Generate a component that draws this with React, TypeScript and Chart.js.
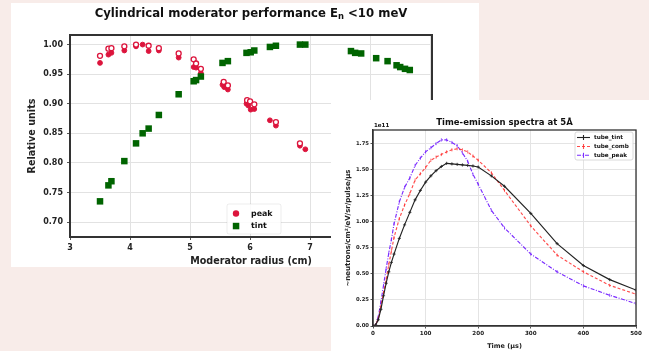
import React, { useEffect, useRef } from 'react';
import { Chart, registerables } from 'chart.js';

Chart.register(...registerables);

const FONT = '"DejaVu Sans", "Liberation Sans", sans-serif';
const PINK = '#f8ece9';
const CRIMSON = '#dc143c';
const GREEN = '#006400';

// ---------- Left chart: Cylindrical moderator performance ----------
const leftTitleParts = ['Cylindrical moderator performance E', 'n', ' <10 meV'];
const leftXLabel = 'Moderator radius (cm)';
const leftYLabel = 'Relative units';
const leftXTicks = [3, 4, 5, 6, 7, 8, 9];
const leftYTicks = [0.7, 0.75, 0.8, 0.85, 0.9, 0.95, 1.0];

const radiusPeak = [3.5, 3.64, 3.69, 3.905, 4.1, 4.21, 4.31, 4.48, 4.81, 5.06, 5.1, 5.18, 5.54, 5.57, 5.63, 5.94, 5.97, 6.01, 6.07, 6.33, 6.43, 6.83, 6.92];
const peakValues = [0.969, 0.983, 0.986, 0.99, 0.997, 1.0, 0.989, 0.99, 0.978, 0.962, 0.961, 0.952, 0.932, 0.928, 0.924, 0.9, 0.897, 0.89, 0.891, 0.872, 0.863, 0.829, 0.823];

const radiusPeakOpen = [3.5, 3.64, 3.69, 3.905, 4.1, 4.31, 4.48, 4.81, 5.06, 5.1, 5.18, 5.56, 5.63, 5.95, 6.0, 6.07, 6.43, 6.83];
const peakOpenValues = [0.981, 0.993, 0.994, 0.997, 1.0, 0.998, 0.994, 0.985, 0.975, 0.968, 0.959, 0.937, 0.931, 0.906, 0.904, 0.899, 0.869, 0.833];

const radiusTint = [3.5, 3.64, 3.69, 3.905, 4.1, 4.21, 4.31, 4.48, 4.81, 5.06, 5.1, 5.18, 5.54, 5.63, 5.94, 6.01, 6.07, 6.33, 6.43, 6.83, 6.92, 7.68, 7.75, 7.85, 8.1, 8.29, 8.44, 8.5, 8.58, 8.66];
const tintValues = [0.735, 0.762, 0.769, 0.803, 0.833, 0.85, 0.858, 0.881, 0.916, 0.938, 0.94, 0.946, 0.969, 0.972, 0.986, 0.987, 0.99, 0.996, 0.998, 1.0, 1.0, 0.989, 0.986, 0.985, 0.977, 0.972, 0.965, 0.962, 0.959, 0.957];

// ---------- Right chart: Time-emission spectra ----------
const rightTitle = 'Time-emission spectra at 5Å';
const rightXLabel = 'Time (μs)';
const rightYLabel = '~neutrons/cm²/eV/sr/pulse/μs';
const rightExponent = '1e11';
const rightXTicks = [0, 100, 200, 300, 400, 500];
const rightYTicks = [0, 0.25, 0.5, 0.75, 1.0, 1.25, 1.5, 1.75];

const timeUs = [0, 5, 10, 15, 20, 25, 30, 35, 40, 50, 60, 70, 80, 90, 100, 110, 120, 130, 140, 150, 160, 170, 180, 190, 200, 225, 250, 300, 350, 400, 450, 500];
const tubeTint = [0, 0.01, 0.06, 0.16, 0.29, 0.41, 0.52, 0.61, 0.69, 0.84, 0.97, 1.09, 1.21, 1.3, 1.38, 1.44, 1.49, 1.53, 1.56, 1.555, 1.55, 1.545, 1.54, 1.535, 1.525, 1.44, 1.34, 1.08, 0.79, 0.58, 0.445, 0.345];
const tubeComb = [0, 0.01, 0.07, 0.19, 0.32, 0.44, 0.59, 0.72, 0.85, 1.03, 1.16, 1.27, 1.4, 1.46, 1.52, 1.59, 1.62, 1.645, 1.67, 1.69, 1.7, 1.69, 1.67, 1.63, 1.59, 1.47, 1.3, 0.96, 0.68, 0.52, 0.39, 0.305];
const tubePeak = [0, 0.01, 0.09, 0.23, 0.39, 0.55, 0.7, 0.83, 0.98, 1.19, 1.33, 1.42, 1.54, 1.61, 1.67, 1.71, 1.75, 1.785, 1.785, 1.76, 1.73, 1.66, 1.58, 1.455, 1.36, 1.11, 0.94, 0.69, 0.52, 0.385, 0.295, 0.215];

const zip = (xs: number[], ys: number[]) => xs.map((x, i) => ({ x, y: ys[i] }));
const font = (size: number) => ({ family: FONT, size, weight: 'bold' as const });

const leftDecor = {
  id: 'leftDecor',
  afterDraw(chart: any) {
    const { ctx, chartArea: a } = chart;
    ctx.save();
    ctx.strokeStyle = '#333';
    ctx.lineWidth = 2;
    ctx.strokeRect(a.left, a.top, a.right - a.left, a.bottom - a.top);

    // title with subscript
    const size = 11.7;
    const mainF = `bold ${size}px ${FONT}`;
    const subF = `bold ${size * 0.72}px ${FONT}`;
    const fonts = [mainF, subF, mainF];
    const dys = [0, size * 0.28, 0];
    ctx.fillStyle = '#111';
    ctx.textBaseline = 'middle';
    ctx.textAlign = 'left';
    const widths = leftTitleParts.map((t, i) => { ctx.font = fonts[i]; return ctx.measureText(t).width; });
    const total = widths.reduce((s, w) => s + w, 0);
    let x = (a.left + a.right) / 2 - total / 2;
    leftTitleParts.forEach((t, i) => {
      ctx.font = fonts[i];
      ctx.fillText(t, x, 10.5 + dys[i]);
      x += widths[i];
    });

    // legend
    const bx = 216, by = 201, bw = 54, bh = 30;
    ctx.fillStyle = 'rgba(255,255,255,0.85)';
    ctx.strokeStyle = 'rgba(0,0,0,0.07)';
    ctx.lineWidth = 1;
    ctx.beginPath();
    ctx.roundRect(bx, by, bw, bh, 2);
    ctx.fill();
    ctx.stroke();
    ctx.fillStyle = CRIMSON;
    ctx.beginPath();
    ctx.arc(225, 210.5, 3.2, 0, Math.PI * 2);
    ctx.fill();
    ctx.fillStyle = GREEN;
    ctx.fillRect(221.8, 219.8, 6.5, 6.5);
    ctx.fillStyle = '#111';
    ctx.font = `bold 7.9px ${FONT}`;
    ctx.fillText('peak', 240, 210.5);
    ctx.fillText('tint', 240, 223);
    ctx.restore();
  },
};

const rightDecor = {
  id: 'rightDecor',
  afterDraw(chart: any) {
    const { ctx, chartArea: a } = chart;
    ctx.save();
    ctx.strokeStyle = '#333';
    ctx.lineWidth = 1.3;
    ctx.strokeRect(a.left, a.top, a.right - a.left, a.bottom - a.top);

    ctx.fillStyle = '#111';
    ctx.textBaseline = 'middle';
    ctx.textAlign = 'center';
    ctx.font = `bold 8.5px ${FONT}`;
    ctx.fillText(rightTitle, (a.left + a.right) / 2, 23);
    ctx.textAlign = 'left';
    ctx.font = `bold 5.5px ${FONT}`;
    ctx.fillText(rightExponent, a.left + 1, 25.5);

    // legend
    const bx = 244, by = 32, bw = 58, bh = 28;
    ctx.fillStyle = 'rgba(255,255,255,0.85)';
    ctx.strokeStyle = '#d0d0d0';
    ctx.lineWidth = 0.8;
    ctx.beginPath();
    ctx.roundRect(bx, by, bw, bh, 2);
    ctx.fill();
    ctx.stroke();
    const ds = chart.data.datasets;
    const rows = [37.5, 46.5, 55.3];
    ds.forEach((d: any, i: number) => {
      const y = rows[i];
      ctx.strokeStyle = d.borderColor;
      ctx.lineWidth = 1.1;
      ctx.setLineDash(d.borderDash || []);
      ctx.beginPath();
      ctx.moveTo(246, y);
      ctx.lineTo(259, y);
      ctx.stroke();
      ctx.setLineDash([]);
      ctx.beginPath();
      ctx.moveTo(252.5, y - 2.5);
      ctx.lineTo(252.5, y + 2.5);
      ctx.stroke();
      ctx.fillStyle = '#111';
      ctx.font = `bold 5.7px ${FONT}`;
      ctx.fillText(d.label, 263, y);
    });
    ctx.restore();
  },
};

function LeftChart() {
  const ref = useRef<HTMLCanvasElement>(null);
  useEffect(() => {
    const chart = new Chart(ref.current as HTMLCanvasElement, {
      type: 'scatter',
      data: {
        datasets: [
          { label: 'peak', data: zip(radiusPeak, peakValues), pointStyle: 'circle', pointRadius: 2.4, pointBorderWidth: 1, backgroundColor: CRIMSON, borderColor: CRIMSON, order: 2 },
          { label: 'peak (open)', data: zip(radiusPeakOpen, peakOpenValues), pointStyle: 'circle', pointRadius: 2.5, pointBorderWidth: 1.3, backgroundColor: '#ffffff', borderColor: CRIMSON, order: 1 },
          { label: 'tint', data: zip(radiusTint, tintValues), pointStyle: 'rect', pointRadius: 4.6, pointBorderWidth: 0, backgroundColor: GREEN, borderColor: GREEN, order: 0 },
        ],
      },
      options: {
        responsive: false,
        animation: false,
        events: [],
        layout: { padding: { left: 0, top: 32, right: 47, bottom: 0 } },
        plugins: { legend: { display: false }, tooltip: { enabled: false }, title: { display: false } },
        scales: {
          x: {
            type: 'linear', min: 3, max: 9.03,
            afterBuildTicks: (s: any) => { s.ticks = leftXTicks.map((v) => ({ value: v })); },
            afterFit: (s: any) => { s.height = 30; },
            ticks: { font: font(8), color: '#222', padding: 3.5, maxRotation: 0, callback: (v: any) => String(v) },
            grid: { color: '#e2e2e2', lineWidth: 1, tickLength: 3, tickColor: '#555' },
            border: { display: true, color: '#333', width: 2 },
            title: { display: true, text: leftXLabel, font: font(9.6), color: '#222', padding: { top: 0, bottom: 0 } },
          },
          y: {
            type: 'linear', min: 0.6747, max: 1.0162,
            afterBuildTicks: (s: any) => { s.ticks = leftYTicks.map((v) => ({ value: v })); },
            afterFit: (s: any) => { s.width = 59; },
            ticks: { font: font(8), color: '#222', padding: 4, callback: (v: any) => Number(v).toFixed(2) },
            grid: { color: '#e2e2e2', lineWidth: 1, tickLength: 3, tickColor: '#555' },
            border: { display: true, color: '#333', width: 2 },
            title: { display: true, text: leftYLabel, font: font(9.6), color: '#222', padding: { top: 16, bottom: 0 } },
          },
        },
      },
      plugins: [leftDecor],
    } as any);
    return () => chart.destroy();
  }, []);
  return <canvas ref={ref} width={468} height={264} style={{ display: 'block', width: 468, height: 264 }} />;
}

function RightChart() {
  const ref = useRef<HTMLCanvasElement>(null);
  useEffect(() => {
    const common = { fill: false, tension: 0, borderWidth: 1.15, pointRadius: 1.6, pointBorderWidth: 0.8 };
    const chart = new Chart(ref.current as HTMLCanvasElement, {
      type: 'line',
      data: {
        datasets: [
          { ...common, label: 'tube_tint', data: zip(timeUs, tubeTint), borderColor: '#222222', pointBorderColor: '#222222', pointBackgroundColor: '#222222', pointStyle: 'cross' },
          { ...common, label: 'tube_comb', data: zip(timeUs, tubeComb), borderColor: 'rgba(255,45,45,0.85)', pointBorderColor: 'rgba(255,45,45,0.85)', borderDash: [3, 2], pointStyle: 'line', pointRotation: 90 },
          { ...common, label: 'tube_peak', data: zip(timeUs, tubePeak), borderColor: '#7a2bff', pointBorderColor: '#7a2bff', borderDash: [4, 1.5, 1, 1.5], pointStyle: 'line', pointRotation: 90 },
        ],
      },
      options: {
        responsive: false,
        animation: false,
        events: [],
        layout: { padding: { left: 0, top: 30, right: 13, bottom: 0 } },
        plugins: { legend: { display: false }, tooltip: { enabled: false }, title: { display: false } },
        scales: {
          x: {
            type: 'linear', min: 0, max: 500,
            afterBuildTicks: (s: any) => { s.ticks = rightXTicks.map((v) => ({ value: v })); },
            afterFit: (s: any) => { s.height = 25; },
            ticks: { font: font(5.6), color: '#222', padding: 2, maxRotation: 0, callback: (v: any) => String(v) },
            grid: { color: '#e4e4e4', lineWidth: 1, tickLength: 2.5, tickColor: '#555' },
            border: { display: true, color: '#333', width: 1.3 },
            title: { display: true, text: rightXLabel, font: font(6.5), color: '#222', padding: { top: 0, bottom: 1 } },
          },
          y: {
            type: 'linear', min: 0, max: 1.88,
            afterBuildTicks: (s: any) => { s.ticks = rightYTicks.map((v) => ({ value: v })); },
            afterFit: (s: any) => { s.width = 42; },
            ticks: { font: font(5.3), color: '#222', padding: 1.5, callback: (v: any) => Number(v).toFixed(2) },
            grid: { color: '#e4e4e4', lineWidth: 1, tickLength: 2.5, tickColor: '#555' },
            border: { display: true, color: '#333', width: 1.3 },
            title: { display: true, text: rightYLabel, font: font(7), color: '#222', padding: { top: 12.5, bottom: 0 } },
          },
        },
      },
      plugins: [rightDecor],
    } as any);
    return () => chart.destroy();
  }, []);
  return <canvas ref={ref} width={318} height={251} style={{ display: 'block', width: 318, height: 251 }} />;
}

export default function App() {
  return (
    <div style={{ position: 'fixed', left: 0, top: 0, width: 649, height: 351, background: PINK, overflow: 'hidden' }}>
      <div style={{ position: 'absolute', left: 11, top: 3, width: 468, height: 264, background: '#ffffff' }}>
        <LeftChart />
      </div>
      <div style={{ position: 'absolute', left: 331, top: 100, width: 318, height: 251, background: '#ffffff' }}>
        <RightChart />
      </div>
    </div>
  );
}
